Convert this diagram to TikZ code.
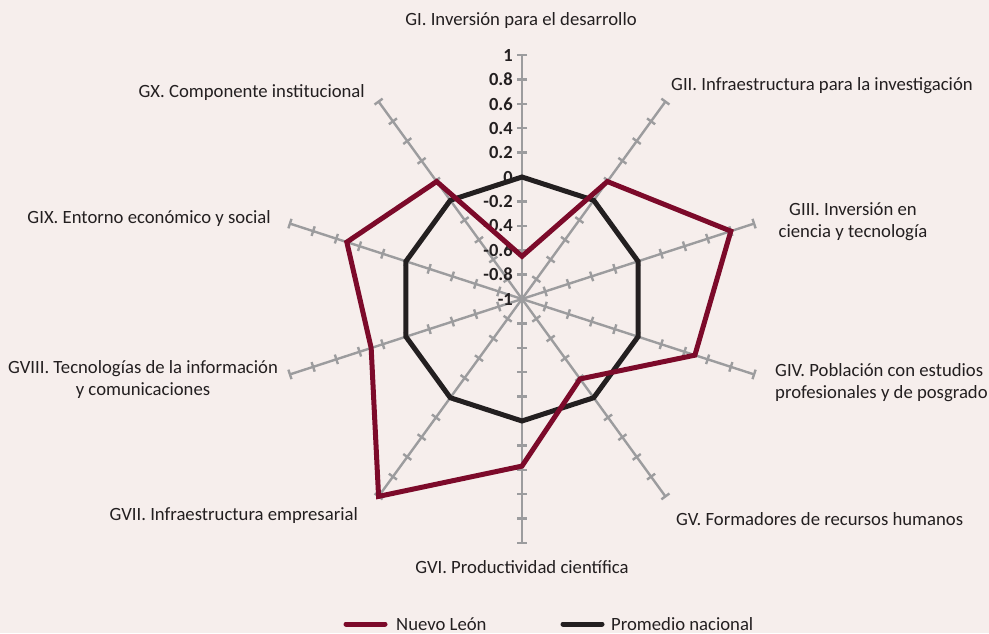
\documentclass[tikz,border=0pt]{standalone}
\usepackage{fontspec}
\setmainfont{Carlito}
\definecolor{bg}{HTML}{F6EEEC}
\definecolor{nl}{HTML}{7C0A2A}
\definecolor{pn}{HTML}{231F20}
\definecolor{ax}{HTML}{9C9C9E}
\begin{document}
\begin{tikzpicture}[x=1pt,y=1pt,
  axisline/.style={ax,line width=2.4pt},
  lbl/.style={font=\fontsize{18.7}{22}\selectfont, text=pn, inner sep=0pt},
  ticklbl/.style={font=\bfseries\fontsize{18.5}{20}\selectfont, text=pn, inner sep=0pt, anchor=east},
  series/.style={line width=5pt, line join=miter},
  legline/.style={line width=5pt, line cap=round}
]
\fill[bg] (0,0) rectangle (989,633);
\useasboundingbox (0,0) rectangle (989,633);
\begin{scope}[shift={(522,334)}]
  \coordinate (C) at (0,0);
  % axes and ticks
  \foreach \k in {0,...,9}{
    \pgfmathsetmacro\ang{90-36*\k}
    \draw[axisline] (C) -- (\ang:244);
    \foreach \i in {1,...,10}{
      \draw[axisline, rotate=\ang] (\i*24.4,-5) -- (\i*24.4,5);
    }
  }
  % tick labels
  \foreach \r/\t in {244/1,219.6/0.8,195.2/0.6,170.8/0.4,146.4/0.2,122/0,97.6/-0.2,73.2/-0.4,48.8/-0.6,24.4/-0.8,0/-1}{
    \node[ticklbl] (t\r) at (-9,\r) {\t};
  }
  % Promedio nacional
  \draw[series, pn] (90:122) -- (54:122) -- (18:122) -- (-18:122) -- (-54:122)
    -- (-90:122) -- (-126:122) -- (-162:122) -- (162:122) -- (126:122) -- cycle;
  % Nuevo Leon
  \draw[series, nl] (90:42.7) -- (54:145.2) -- (18:219.6) -- (-18:181.8) -- (-54:98.8)
    -- (-90:167.1) -- (-126:244) -- (-162:158.6) -- (162:184.2) -- (126:145.2) -- cycle;
\end{scope}
% axis labels
\node[lbl, anchor=base] (g1) at (521,607) {GI. Inversión para el desarrollo};
\node[lbl, anchor=base west] (g2) at (671,542) {GII. Infraestructura para la investigación};
\node[lbl, anchor=base, align=center] (g3) at (853,395) {GIII. Inversión en\\ciencia y tecnología};
\node[lbl, anchor=base west, align=left] (g4) at (775,234) {GIV. Población con estudios\\profesionales y de posgrado};
\node[lbl, anchor=base west] (g5) at (676,108) {GV. Formadores de recursos humanos};
\node[lbl, anchor=base] (g6) at (522,60) {GVI. Productividad científica};
\node[lbl, anchor=base east] (g7) at (358,113) {GVII. Infraestructura empresarial};
\node[lbl, anchor=base, align=center] (g8) at (143,237) {GVIII. Tecnologías de la información\\y comunicaciones};
\node[lbl, anchor=base east] (g9) at (271,409) {GIX. Entorno económico y social};
\node[lbl, anchor=base east] (g10) at (365,535) {GX. Componente institucional};
% legend
\coordinate (l1a) at (346,9);
\coordinate (l1b) at (385,9);
\coordinate (l2a) at (563,9);
\coordinate (l2b) at (602,9);
\draw[legline, nl] (l1a) -- (l1b);
\draw[legline, pn] (l2a) -- (l2b);
\node[lbl, anchor=base west] (leg1) at (396,3) {Nuevo León};
\node[lbl, anchor=base west] (leg2) at (611,3) {Promedio nacional};
\end{tikzpicture}
\end{document}
